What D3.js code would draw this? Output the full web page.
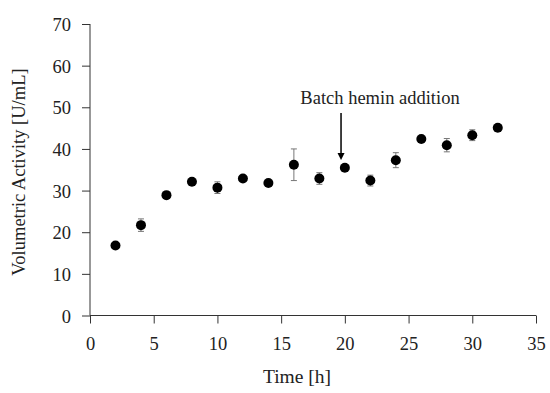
<!DOCTYPE html>
<html><head><meta charset="utf-8">
<script src="https://cdn.jsdelivr.net/npm/d3@7"></script>
<style>body{margin:0;background:#fff;} text{font-family:"Liberation Serif","DejaVu Serif",serif;fill:#222;}</style>
</head><body>
<svg id="c" width="550" height="393"></svg>
<script>
const times = [2,4,6,8,10,12,14,16,18,20,22,24,26,28,30,32];
const activity = [16.8,21.7,28.9,32.1,30.7,32.9,31.8,36.2,32.9,35.5,32.4,37.3,42.4,40.9,43.3,45.1];
const errors = [0.4,1.5,0.5,0.5,1.4,0.5,0.5,3.8,1.4,0.7,1.3,1.8,0.4,1.6,1.3,0.7];
const xTicks = [0,5,10,15,20,25,30,35];
const yTicks = [0,10,20,30,40,50,60,70];
const annotation = {x:19.7, label:"Batch hemin addition"};

const svg = d3.select("#c");
const x = d3.scaleLinear().domain([0,35]).range([90,536]);
const y = d3.scaleLinear().domain([0,70]).range([315.5,24]);

const ax = svg.append("g").attr("transform","translate(0,315.5)")
  .call(d3.axisBottom(x).tickValues(xTicks).tickSize(8).tickPadding(13));
const ay = svg.append("g").attr("transform","translate(90,0)")
  .call(d3.axisLeft(y).tickValues(yTicks).tickSize(8).tickPadding(11));
[ax,ay].forEach(g=>{
  g.selectAll("path,line").attr("stroke","#333").attr("stroke-width",1);
  g.selectAll("text").attr("font-size",18.5).attr("fill","#222").attr("font-family","Liberation Serif");
});
ax.select(".domain").attr("d","M90,0H536");
ay.select(".domain").attr("d","M0,315.5V24");
ay.selectAll("text").attr("dy","0.36em");

// error bars
const eb = svg.append("g").attr("stroke","#777").attr("stroke-width",1);
times.forEach((t,i)=>{
  const cx=x(t), y1=y(activity[i]-errors[i]), y2=y(activity[i]+errors[i]);
  eb.append("line").attr("x1",cx).attr("x2",cx).attr("y1",y1).attr("y2",y2);
  eb.append("line").attr("x1",cx-3).attr("x2",cx+3).attr("y1",y1).attr("y2",y1);
  eb.append("line").attr("x1",cx-3).attr("x2",cx+3).attr("y1",y2).attr("y2",y2);
});
svg.append("g").selectAll("circle").data(times).join("circle")
  .attr("cx",d=>x(d)).attr("cy",(d,i)=>y(activity[i])).attr("r",5).attr("fill","#000");

// annotation arrow
const axp = x(annotation.x);
svg.append("line").attr("x1",axp).attr("x2",axp).attr("y1",113).attr("y2",154)
  .attr("stroke","#000").attr("stroke-width",1.5);
svg.append("path").attr("d",`M${axp-3.5},153L${axp+3.5},153L${axp},160Z`).attr("fill","#000");
svg.append("text").attr("x",380).attr("y",104).attr("text-anchor","middle")
  .attr("font-size",18.5).text(annotation.label);

svg.append("text").attr("x",297).attr("y",383).attr("text-anchor","middle")
  .attr("font-size",19.5).text("Time [h]");
svg.append("text").attr("transform","translate(25,172) rotate(-90)").attr("text-anchor","middle")
  .attr("font-size",18.5).text("Volumetric Activity [U/mL]");
</script>
</body></html>
